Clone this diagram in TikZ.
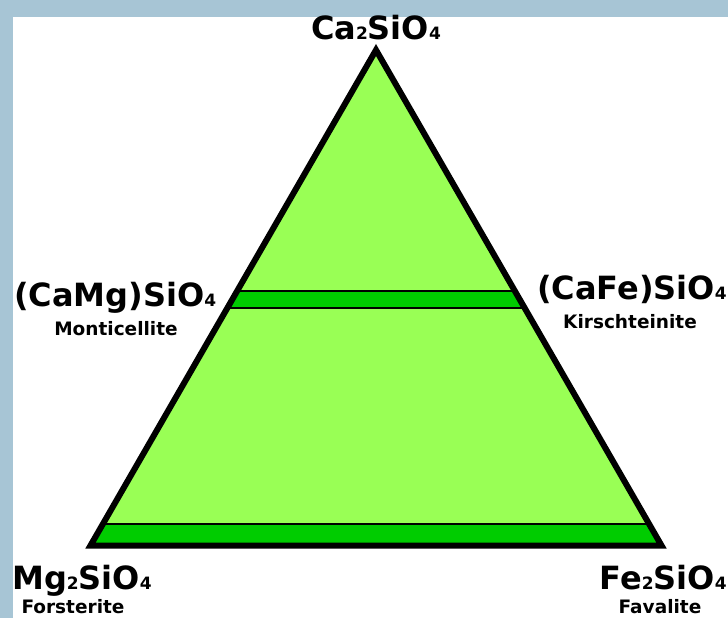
\documentclass[tikz,border=0pt]{standalone}
\usepackage{fontspec}
\setmainfont{DejaVu Sans}
\usetikzlibrary{positioning}
\definecolor{frameblue}{HTML}{A7C5D5}
\definecolor{lightgrn}{HTML}{99FF55}
\definecolor{bandgrn}{HTML}{00CC00}
\newcommand{\ssub}[1]{{\fontsize{17}{17}\selectfont #1}}

\begin{document}
\begin{tikzpicture}[x=1pt,y=-1pt,
  formula/.style={font=\fontsize{32}{32}\selectfont\bfseries,inner sep=0pt,anchor=base},
  mineral/.style={font=\fontsize{18.5}{18.5}\selectfont\bfseries,inner sep=0pt,anchor=base},
  band/.style={fill=bandgrn},
  sep/.style={draw=black,line width=2.5pt},
  outline/.style={draw=black,line width=6pt,line join=miter}]

\useasboundingbox (0,0) rectangle (728,618);
\fill[frameblue] (0,0) rectangle (728,618);
\fill[white] (13,17) rectangle (728,618);

\coordinate (top) at (376,50);
\coordinate (bl) at (90.5,545.5);
\coordinate (br) at (661.5,545.5);

\fill[lightgrn] (top)--(bl)--(br)--cycle;
\begin{scope}
 \clip (top)--(bl)--(br)--cycle;
 \fill[band] (0,291) rectangle (728,308);
 \fill[band] (0,524) rectangle (728,560);
 \draw[sep] (0,291)--(728,291); \draw[sep] (0,308)--(728,308);
 \draw[sep] (0,524)--(728,524);
\end{scope}
\draw[outline] (top)--(bl)--(br)--cycle;

\node[formula] (ca) at (376,40) {Ca\ssub{2}SiO\ssub{4}};
\node[formula,anchor=base west] (camg) at (14,306) {(CaMg)SiO\ssub{4}};
\node[mineral] (mont) at (116,335) {Monticellite};
\node[formula,anchor=base east] (cafe) at (727,299) {(CaFe)SiO\ssub{4}};
\node[mineral] (kirs) at (630,328) {Kirschteinite};
\node[formula,anchor=base west] (mg) at (12,589) {Mg\ssub{2}SiO\ssub{4}};
\node[mineral] (fors) at (73,613) {Forsterite};
\node[formula,anchor=base east] (fe) at (727,589) {Fe\ssub{2}SiO\ssub{4}};
\node[mineral] (fay) at (660,613) {Favalite};
\end{tikzpicture}
\end{document}
